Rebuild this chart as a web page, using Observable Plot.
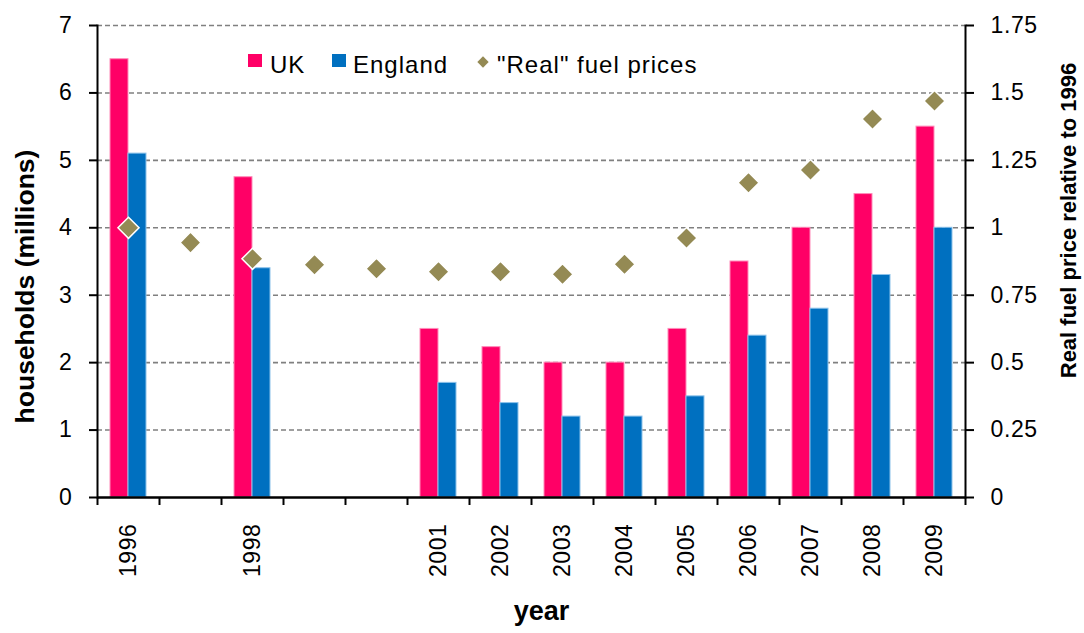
<!DOCTYPE html>
<html><head><meta charset="utf-8">
<script src="https://cdn.jsdelivr.net/npm/d3@7"></script>
<script src="https://cdn.jsdelivr.net/npm/@observablehq/plot@0.6"></script>
<style>
body{margin:0;background:#fff;font-family:"Liberation Sans",Arial,sans-serif;}
#wrap{position:relative;width:1084px;height:633px;}
.leg{position:absolute;font-size:24px;line-height:24px;color:#000;white-space:nowrap;letter-spacing:1px;}
.sw{position:absolute;width:14px;height:13px;}
.dia{position:absolute;width:8px;height:8px;transform:rotate(45deg);}
g[aria-label="y-axis tick label"] text, g[aria-label="x-axis tick label"] text{letter-spacing:0.6px;}
</style></head><body><div id="wrap"></div>
<script>
const years = ["1996","1997","1998","1999","2000","2001","2002","2003","2004","2005","2006","2007","2008","2009"];
const labeledYears = ["1996","1998","2001","2002","2003","2004","2005","2006","2007","2008","2009"];
const ukValues = [6.5, null, 4.75, null, null, 2.5, 2.23, 2.0, 2.0, 2.5, 3.5, 4.0, 4.5, 5.5];
const englandValues = [5.1, null, 3.4, null, null, 1.7, 1.4, 1.2, 1.2, 1.5, 2.4, 2.8, 3.3, 4.0];
const fuelPrices = [1.0, 0.945, 0.885, 0.863, 0.848, 0.837, 0.837, 0.828, 0.865, 0.962, 1.167, 1.214, 1.403, 1.47];
const leftTicks = [0, 1, 2, 3, 4, 5, 6, 7];
const rightTicks = [0, 0.25, 0.5, 0.75, 1, 1.25, 1.5, 1.75];
const seriesNames = ["UK", "England", "\"Real\" fuel prices"];
const colors = ["#FF0066", "#0070C0", "#948A54"];
const leftTitle = "households (millions)";
const rightTitle = "Real fuel price relative to 1996";
const xTitle = "year";

const ratio = 7 / 1.75;
const table = years.map((y, i) => ({year: y, uk: ukValues[i], england: englandValues[i], fuel: fuelPrices[i]}));

const plot = Plot.plot({
  width: 1084, height: 633,
  marginLeft: 97, marginRight: 119, marginTop: 25, marginBottom: 136,
  style: {fontFamily: "'Liberation Sans', Arial, sans-serif", fontSize: "23px", color: "#000", background: "white", overflow: "visible"},
  x: {type: "band", domain: years, padding: 0},
  y: {domain: [0, 7], nice: false},
  marks: [
    Plot.ruleY(leftTicks.filter(d => d > 0), {stroke: "#808080", strokeWidth: 1.6, strokeDasharray: "5,3"}),
    Plot.barY(table.filter(d => d.uk != null), {x: "year", y: "uk", fill: colors[0], stroke: "#ff8cba", strokeWidth: 1, insetLeft: 13, insetRight: 31}),
    Plot.barY(table.filter(d => d.england != null), {x: "year", y: "england", fill: colors[1], stroke: "#8cc2ea", strokeWidth: 1, insetLeft: 31, insetRight: 13}),
    Plot.dot(table, {x: "year", y: d => d.fuel * ratio, symbol: "diamond2", r: 9.5, fill: colors[2], stroke: "white", strokeWidth: 1.5}),
    Plot.axisY({anchor: "left", ticks: leftTicks, tickFormat: d => String(d), tickSize: 8, tickPadding: 17, strokeWidth: 2, fontSize: 23, label: null}),
    Plot.axisY({anchor: "right", ticks: rightTicks.map(v => v * ratio), tickFormat: d => String(d / ratio), tickSize: 8, tickPadding: 17, strokeWidth: 2, fontSize: 23, label: null}),
    Plot.axisX({ticks: labeledYears, tickSize: 0, tickPadding: 26, tickRotate: -90, fontSize: 23, label: null}),
    Plot.axisX({ticks: years, tickSize: 8, tickFormat: () => "", dx: -31, strokeWidth: 2, label: null}),
    Plot.axisX({ticks: [years[years.length - 1]], tickSize: 8, tickFormat: () => "", dx: 31, strokeWidth: 2, label: null}),
    Plot.ruleY([0], {stroke: "#000", strokeWidth: 2.5}),
    Plot.frame({anchor: "left", stroke: "#000", strokeWidth: 2}),
    Plot.frame({anchor: "right", stroke: "#000", strokeWidth: 2}),
    Plot.text([leftTitle], {text: d => d, frameAnchor: "left", textAnchor: "middle", rotate: -90, dx: -72, dy: 25, fontWeight: "bold", fontSize: 26.5}),
    Plot.text([rightTitle], {text: d => d, frameAnchor: "right", textAnchor: "middle", rotate: -90, dx: 103, dy: -41, fontWeight: "bold", fontSize: 22}),
    Plot.text([xTitle], {text: d => d, frameAnchor: "bottom", textAnchor: "middle", dx: 10, dy: 122, fontWeight: "bold", fontSize: 27})
  ]
});
const wrap = document.getElementById("wrap");
wrap.appendChild(plot);

const legendItems = [
  {name: seriesNames[0], color: colors[0], kind: "sw", mx: 248, tx: 270},
  {name: seriesNames[1], color: colors[1], kind: "sw", mx: 332, tx: 353},
  {name: seriesNames[2], color: colors[2], kind: "dia", mx: 479, tx: 497}
];
for (const it of legendItems) {
  const m = document.createElement("div");
  m.className = it.kind;
  m.style.background = it.color;
  m.style.left = it.mx + "px";
  m.style.top = (it.kind === "sw" ? 54 : 58) + "px";
  wrap.appendChild(m);
  const t = document.createElement("div");
  t.className = "leg";
  t.textContent = it.name;
  t.style.left = it.tx + "px";
  t.style.top = "53px";
  wrap.appendChild(t);
}
</script></body></html>
